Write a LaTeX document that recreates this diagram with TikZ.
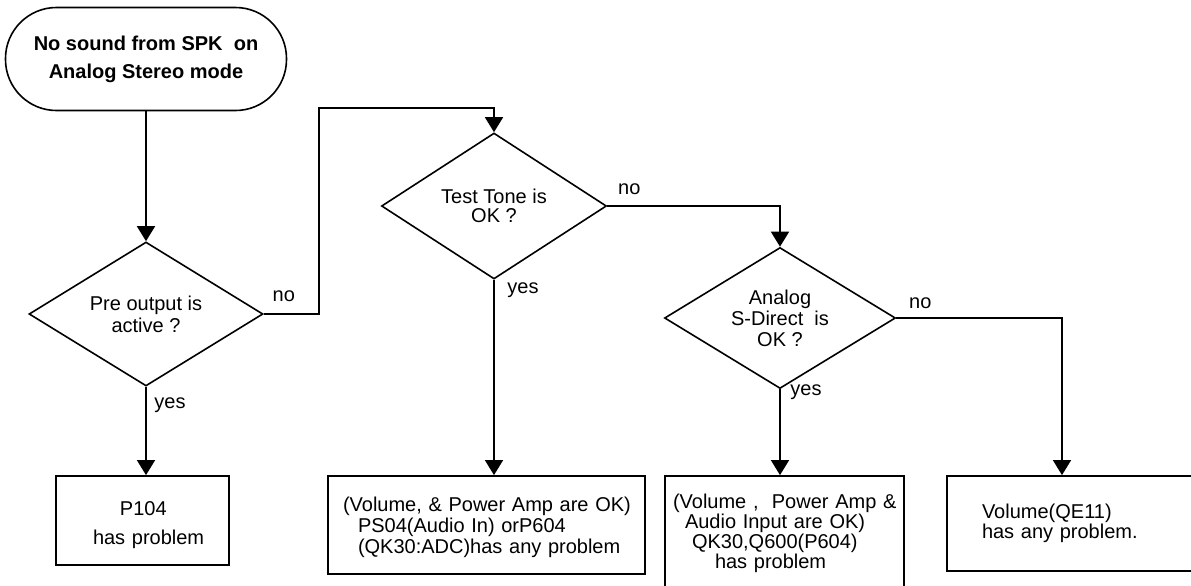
\documentclass[tikz,border=0pt]{standalone}
\usepackage{fontspec}
\setmainfont{Liberation Sans}
\usetikzlibrary{shapes.geometric,arrows.meta,calc}
\begin{document}
\begin{tikzpicture}[x=0.5pt,y=-0.5pt,
  every node/.style={font=\fontsize{10}{10.5}\selectfont},
  line/.style={line width=0.8pt},
  arr/.style={line, -{Triangle[length=7.5pt,width=9pt]}},
  decision/.style={draw, line width=0.8pt, shape=diamond, inner sep=0pt, align=center, aspect=1.6},
  outbox/.style={draw, line width=0.9pt, inner xsep=0pt, inner ysep=0pt, align=left},
  lbl/.style={inner sep=0pt}]
\clip (0,0) rectangle (1191,585);
% start
\node[draw, line width=0.8pt, rounded corners=25.5pt, minimum width=140.5pt, minimum height=51.5pt,
      align=center, font=\bfseries\fontsize{10}{10.5}\selectfont] (start) at (146,59)
  {No sound from SPK~ on\\[3.5pt]Analog Stereo mode};
% decisions
\node[decision, minimum width=117pt, minimum height=72pt] (d1) at (146,314) {Pre output is\\[0.5pt]active ?};
\node[decision, minimum width=112.5pt, minimum height=73pt] (d2) at (494,206) {Test Tone is\\[-1pt]OK ?};
\node[decision, minimum width=115.5pt, minimum height=70.5pt] (d3) at (780,318) {Analog\\S-Direct~ is\\OK ?};
% result boxes
\node[outbox, text width=86.5pt, minimum height=44.5pt] (b1) at (142.5,520.5)
  {\rule{0pt}{11.2pt}\hspace*{32pt}P104\\[4pt]\hspace*{18.5pt}has problem};
\node[outbox, text width=158.5pt, minimum height=49pt] (b2) at (486.5,525)
  {\rule{0pt}{9.5pt}\hspace*{7.5pt}(Volume, \& Power Amp are OK)\\\hspace*{15pt}PS04(Audio In) orP604\\\hspace*{15pt}(QK30:ADC)has any problem};
\node[outbox, text width=119.5pt, minimum height=57pt] (b3) at (784.5,533)
  {\hspace*{4pt}(Volume ,~ Power Amp \&\\[-0.5pt]\hspace*{10pt}Audio Input are OK)\\[-0.5pt]\hspace*{13.5pt}QK30,Q600(P604)\\[-0.5pt]\hspace*{25pt}has problem};
\node[outbox, text width=126.5pt, minimum height=47.5pt] (b4) at (1073.5,523.5)
  {\hspace*{17.5pt}Volume(QE11)\\[-0.5pt]\hspace*{17.5pt}has any problem.};
% connectors
\coordinate (c1) at (319,108);
\coordinate (c4) at (1062,0);
\draw[arr] (start.south) -- (d1.north);
\draw[arr] (d1.east) -| (c1) -| (d2.north);
\draw[arr] (d2.east) -| (d3.north);
\draw[arr] (d3.east) -| (c4 |- b4.north);
\draw[arr] (d1.south) -- (d1.south |- b1.north);
\draw[arr] (d2.south) -- (d2.south |- b2.north);
\draw[arr] (d3.south) -- (d3.south |- b3.north);
% labels
\node[lbl] (n1) at ($(d1.east)+(20,-18)$) {no};
\node[lbl] (n2) at ($(d2.east)+(22,-17)$) {no};
\node[lbl] (n3) at ($(d3.east)+(24,-15)$) {no};
\node[lbl] (y1) at ($(d1.south)+(24,18)$) {yes};
\node[lbl] (y2) at ($(d2.south)+(29,10)$) {yes};
\node[lbl] (y3) at ($(d3.south)+(26,3)$) {yes};
\end{tikzpicture}
\end{document}
